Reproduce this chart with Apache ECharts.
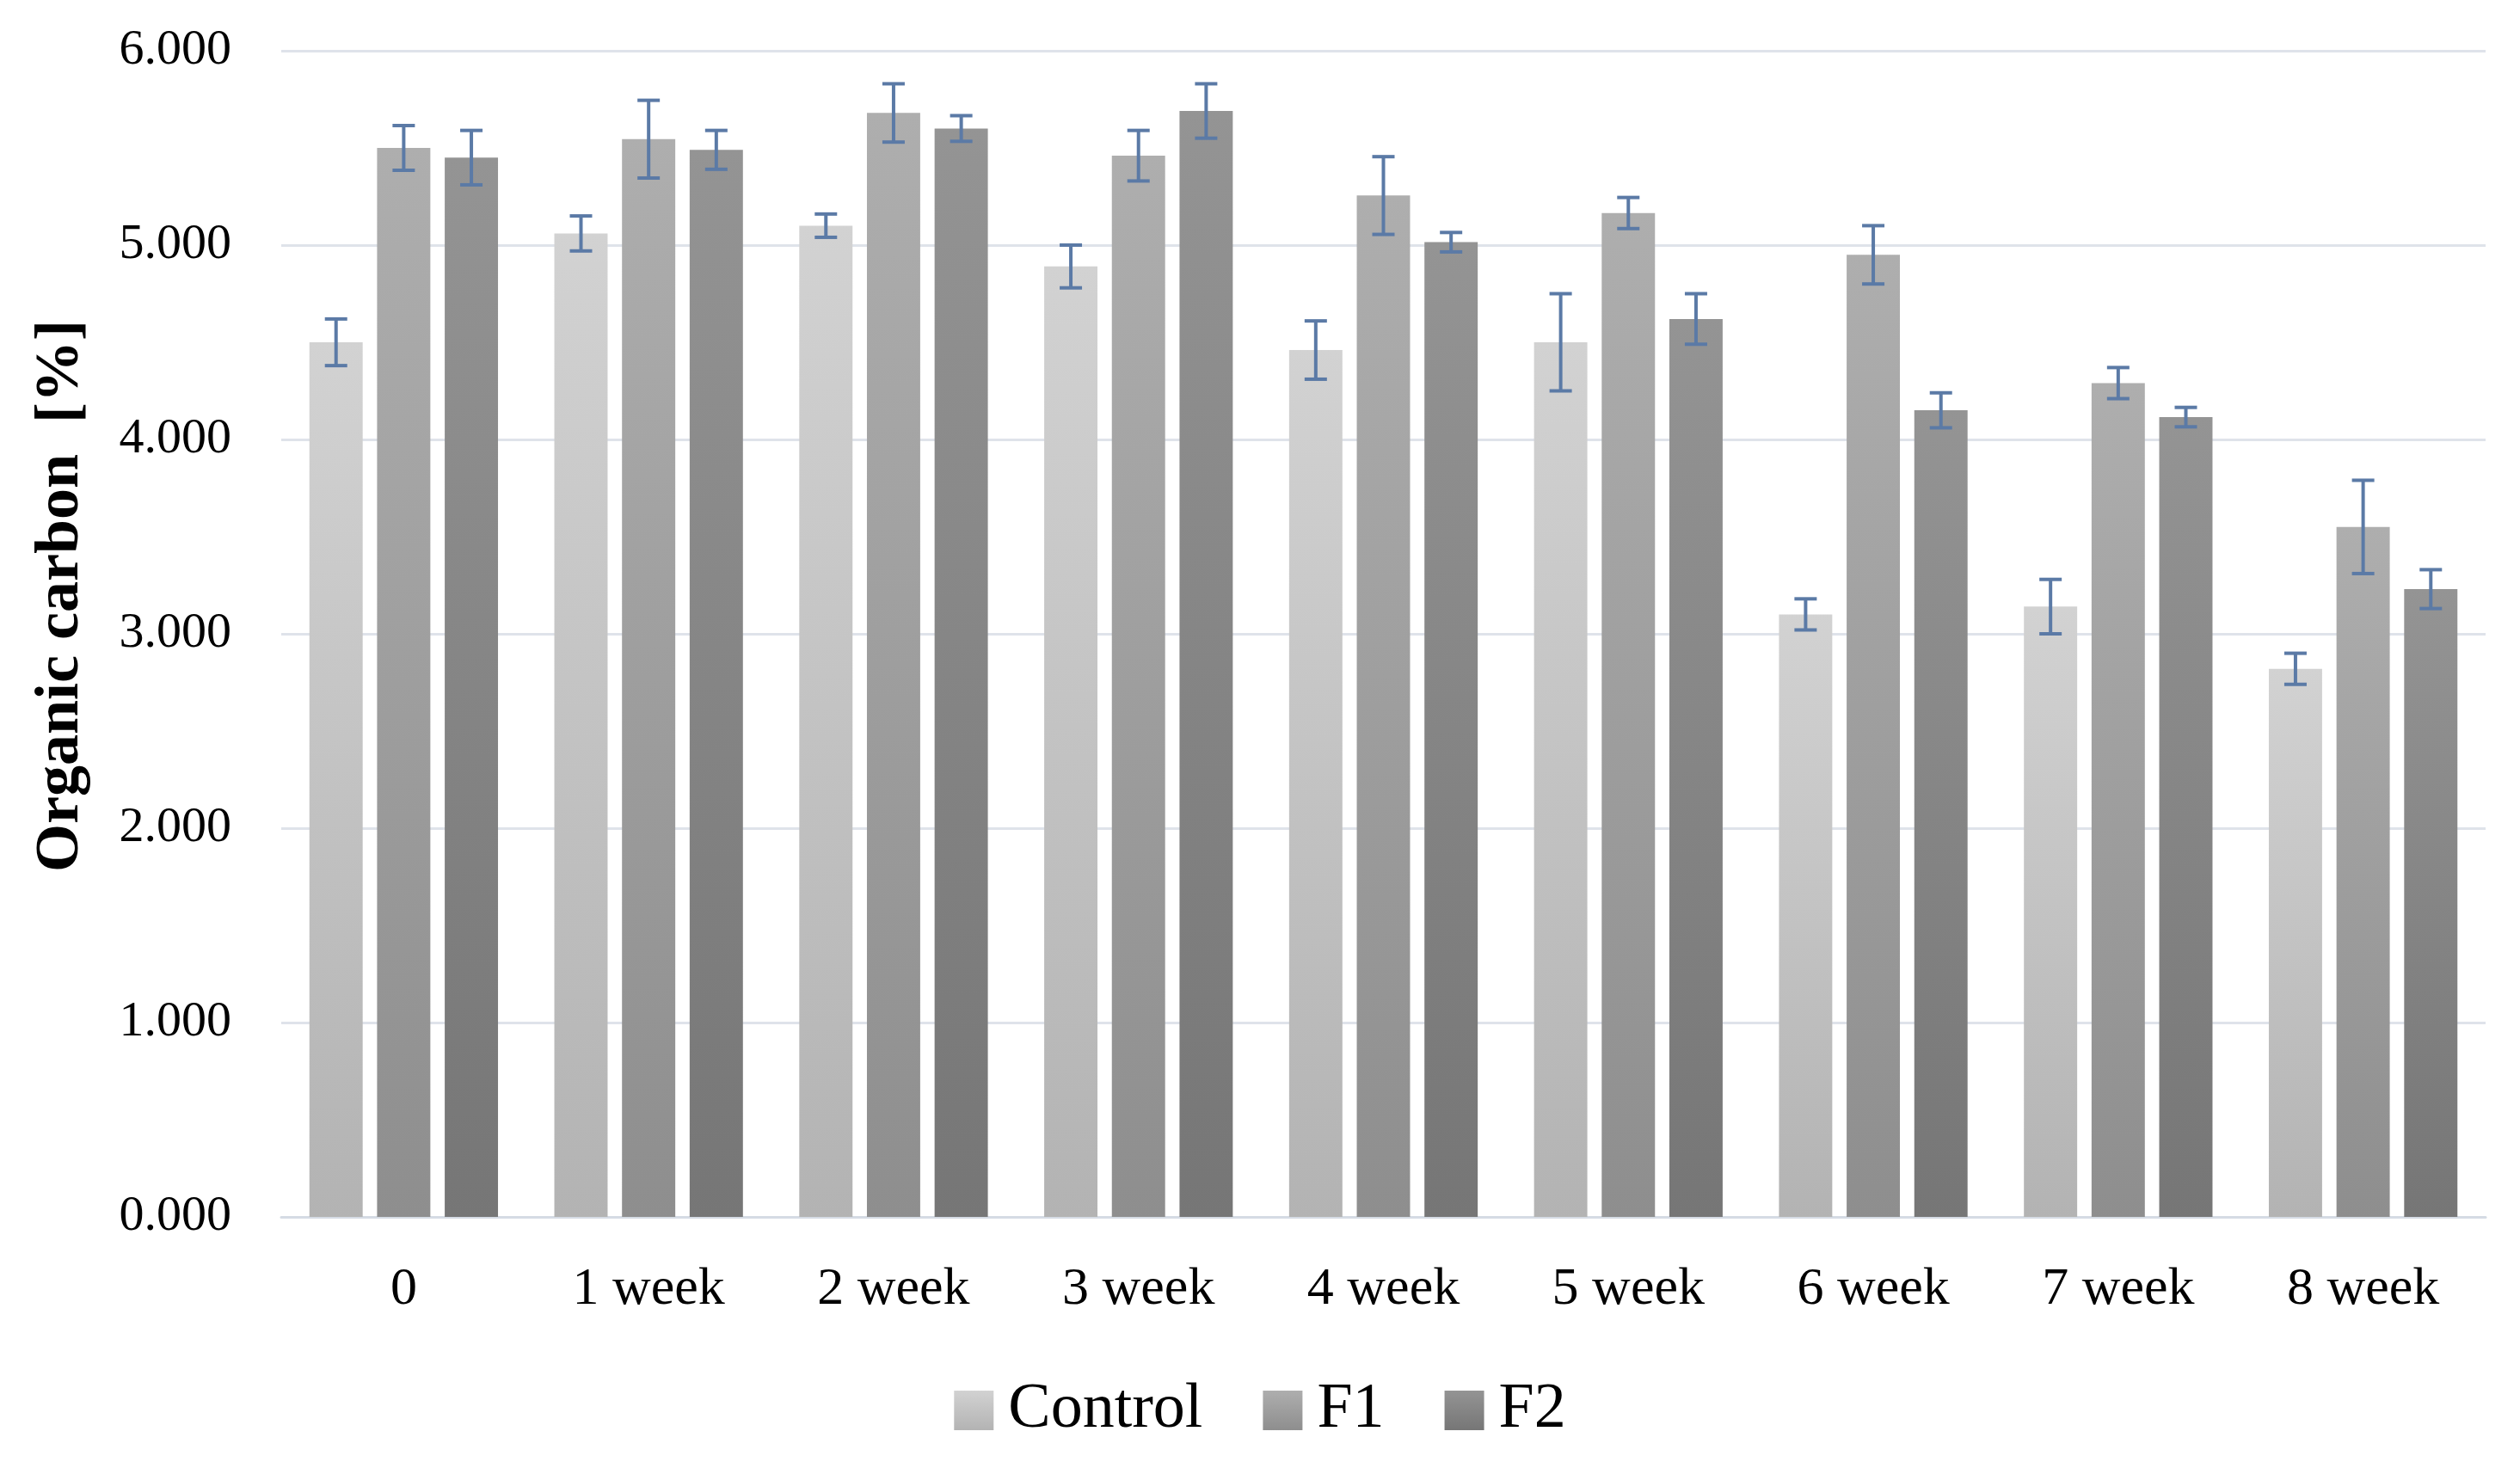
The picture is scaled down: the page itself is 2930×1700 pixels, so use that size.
<!DOCTYPE html>
<html>
<head>
<meta charset="utf-8">
<style>html,body{margin:0;padding:0;background:#fff;}#c{width:2930px;height:1700px;}</style>
<script src="https://cdn.jsdelivr.net/npm/echarts@6/dist/echarts.min.js"></script>
</head>
<body>
<div id="c"></div>
<script>
const categories = ['0','1 week','2 week','3 week','4 week','5 week','6 week','7 week','8 week'];
const seriesNames = ['Control','F1','F2'];
const controlValues = [4.50, 5.06, 5.10, 4.89, 4.46, 4.50, 3.10, 3.14, 2.82];
const f1Values      = [5.50, 5.545, 5.68, 5.46, 5.255, 5.165, 4.95, 4.29, 3.55];
const f2Values      = [5.45, 5.49, 5.60, 5.69, 5.015, 4.62, 4.15, 4.115, 3.23];
const controlErr = [0.12, 0.09, 0.06, 0.11, 0.15, 0.25, 0.08, 0.14, 0.08];
const f1Err      = [0.115, 0.20, 0.15, 0.13, 0.20, 0.08, 0.15, 0.08, 0.24];
const f2Err      = [0.14, 0.10, 0.066, 0.14, 0.05, 0.13, 0.09, 0.05, 0.10];
const yTicks = [0, 1, 2, 3, 4, 5, 6];

const values = [controlValues, f1Values, f2Values];
const errs = [controlErr, f1Err, f2Err];
const colors = [
  ['#d2d2d2', '#b3b3b3'],
  ['#aeaeae', '#8e8e8e'],
  ['#949494', '#767676']
];
const CAT_GAP = 0.23, BAR_GAP = 0.27;
const FONT = '"Liberation Serif", "Times New Roman", serif';

const chart = echarts.init(document.getElementById('c'));
const series = [];
seriesNames.forEach((name, i) => {
  series.push({
    name: name,
    type: 'bar',
    barGap: (BAR_GAP * 100) + '%',
    barCategoryGap: (CAT_GAP * 100) + '%',
    data: values[i],
    itemStyle: {
      color: new echarts.graphic.LinearGradient(0, 0, 0, 1, [
        {offset: 0, color: colors[i][0]},
        {offset: 1, color: colors[i][1]}
      ])
    },
    emphasis: {disabled: true}
  });
});
seriesNames.forEach((name, i) => {
  series.push({
    name: name + ' err',
    type: 'custom',
    z: 10,
    silent: true,
    data: values[i].map((v, k) => [k, v - errs[i][k], v + errs[i][k]]),
    renderItem: function (params, api) {
      const k = api.value(0);
      const lo = api.coord([k, api.value(1)]);
      const hi = api.coord([k, api.value(2)]);
      const band = api.size([1, 0])[0];
      const w = band * (1 - CAT_GAP) / (3 + 2 * BAR_GAP);
      const x = lo[0] + (i - 1) * w * (1 + BAR_GAP);
      const cap = 13;
      const st = {stroke: '#5b7aa6', lineWidth: 4};
      return {
        type: 'group',
        children: [
          {type: 'line', shape: {x1: x, y1: lo[1], x2: x, y2: hi[1]}, style: st},
          {type: 'line', shape: {x1: x - cap, y1: lo[1], x2: x + cap, y2: lo[1]}, style: st},
          {type: 'line', shape: {x1: x - cap, y1: hi[1], x2: x + cap, y2: hi[1]}, style: st}
        ]
      };
    }
  });
});

chart.setOption({
  animation: false,
  backgroundColor: '#ffffff',
  grid: {left: 327, right: 40, top: 59, bottom: 285, containLabel: false},
  legend: {
    data: seriesNames,
    bottom: 18,
    left: 'center',
    icon: 'rect',
    itemWidth: 46,
    itemHeight: 46,
    itemGap: 70,
    textStyle: {fontFamily: FONT, fontSize: 74, color: '#000', padding: [0, 0, 0, 12]}
  },
  xAxis: {
    type: 'category',
    data: categories,
    axisLine: {lineStyle: {color: '#d5dbe4', width: 3}},
    axisTick: {show: false},
    axisLabel: {fontFamily: FONT, fontSize: 62, color: '#000', margin: 54}
  },
  yAxis: {
    type: 'value',
    min: 0,
    max: 6,
    interval: 1,
    name: 'Organic carbon  [%]',
    nameLocation: 'middle',
    nameGap: 220,
    nameTextStyle: {fontFamily: FONT, fontSize: 72, fontWeight: 'bold', color: '#000', padding: [0, 0, 0, 88]},
    axisLine: {show: false},
    axisTick: {show: false},
    splitLine: {lineStyle: {color: '#dfe3ea', width: 3}},
    axisLabel: {
      fontFamily: FONT, fontSize: 58, color: '#000', margin: 58,
      formatter: v => (yTicks.indexOf(v) >= 0 ? v.toFixed(3) : '')
    }
  },
  series: series
});
</script>
</body>
</html>
